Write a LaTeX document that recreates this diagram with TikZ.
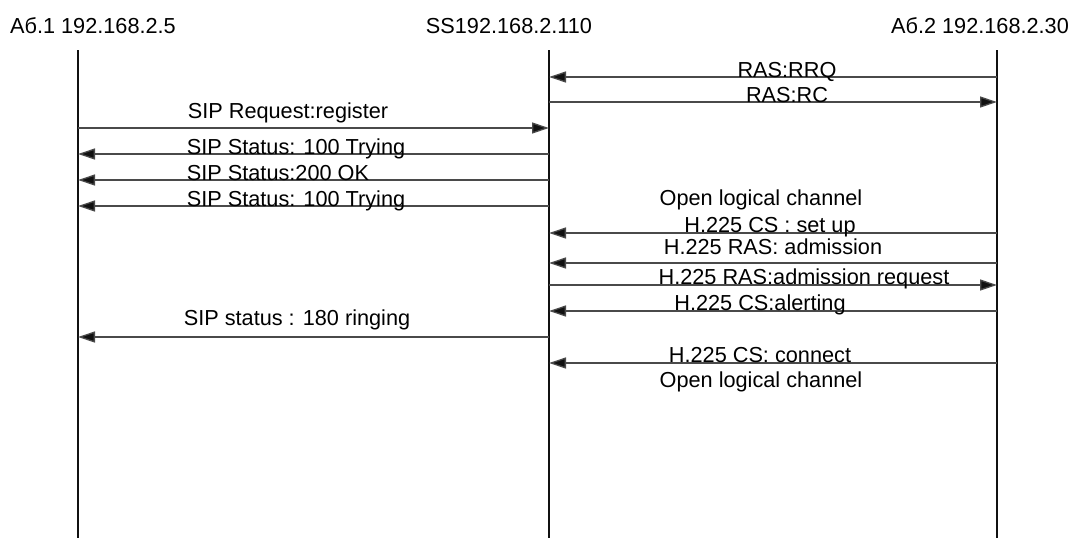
\documentclass[tikz,border=0pt]{standalone}
\usepackage{fontspec}
\setmainfont{Liberation Sans}
\usetikzlibrary{arrows.meta}
\definecolor{seqline}{HTML}{111111}
\definecolor{msgline}{HTML}{4A4A4A}
\tikzset{
    lifeline/.style={line width=1.2pt, draw=seqline},
    msg/.style={line width=1.3pt, draw=msgline,
        -{Triangle[length=17pt,width=11pt,fill=seqline]}},
    header/.style={font=\fontsize{21.7}{26}\selectfont,
        anchor=base, inner sep=0pt},
    msglabel/.style={font=\fontsize{21.7}{26}\selectfont,
        anchor=base, inner sep=0pt},
}

\begin{document}
\begin{tikzpicture}[x=1pt, y=-1pt]

    \useasboundingbox (0,0) rectangle (1074,538);

    % Headers
    \node[header] (ab1) at (93,33)  {Аб.1 192.168.2.5};
    \node[header] (ss)  at (509,33) {SS192.168.2.110};
    \node[header] (ab2) at (980,33) {Аб.2 192.168.2.30};

    % Lifelines
    \coordinate (ab1top) at (78,50);   \coordinate (ab1bot) at (78,538);
    \coordinate (sstop)  at (549,50);  \coordinate (ssbot)  at (549,538);
    \coordinate (ab2top) at (997,50);  \coordinate (ab2bot) at (997,538);
    \draw[lifeline] (ab1top) -- (ab1bot);
    \draw[lifeline] (sstop)  -- (ssbot);
    \draw[lifeline] (ab2top) -- (ab2bot);

    % Message rows
    \coordinate (rrq)      at (0,77);
    \coordinate (rc)       at (0,102);
    \coordinate (register) at (0,128);
    \coordinate (trying)   at (0,154);
    \coordinate (ok)       at (0,180);
    \coordinate (tryingb)  at (0,206);
    \coordinate (setup)    at (0,233);
    \coordinate (adm)      at (0,263);
    \coordinate (admreq)   at (0,285);
    \coordinate (alert)    at (0,311);
    \coordinate (ringing)  at (0,337);
    \coordinate (connect)  at (0,363);

    % Arrows
    \draw[msg] (ab2top |- rrq)      -- (sstop |- rrq);
    \draw[msg] (sstop |- rc)        -- (ab2top |- rc);
    \draw[msg] (ab1top |- register) -- (sstop |- register);
    \draw[msg] (sstop |- trying)    -- (ab1top |- trying);
    \draw[msg] (sstop |- ok)        -- (ab1top |- ok);
    \draw[msg] (sstop |- tryingb)   -- (ab1top |- tryingb);
    \draw[msg] (ab2top |- setup)    -- (sstop |- setup);
    \draw[msg] (ab2top |- adm)      -- (sstop |- adm);
    \draw[msg] (sstop |- admreq)    -- (ab2top |- admreq);
    \draw[msg] (ab2top |- alert)    -- (sstop |- alert);
    \draw[msg] (sstop |- ringing)   -- (ab1top |- ringing);
    \draw[msg] (ab2top |- connect)  -- (sstop |- connect);

    % Labels
    \node[msglabel] (rrqlbl)      at (787,77)  {RAS:RRQ};
    \node[msglabel] (rclbl)       at (787,102) {RAS:RC};
    \node[msglabel] (registerlbl) at (288,118) {SIP Request:register};
    \node[msglabel] (tryinglbl)   at (296,154) {SIP Status: 100 Trying};
    \node[msglabel] (oklbl)       at (278,180) {SIP Status:200 OK};
    \node[msglabel] (tryingblbl)  at (296,206) {SIP Status: 100 Trying};
    \node[msglabel] (olca)        at (761,205) {Open logical channel};
    \node[msglabel] (setuplbl)    at (770,232) {H.225 CS : set up};
    \node[msglabel] (admlbl)      at (773,254) {H.225 RAS: admission};
    \node[msglabel] (admreqlbl)   at (804,284) {H.225 RAS:admission request};
    \node[msglabel] (alertlbl)    at (760,310) {H.225 CS:alerting};
    \node[msglabel] (ringinglbl)  at (297,325) {SIP status : 180 ringing};
    \node[msglabel] (connectlbl)  at (760,362) {H.225 CS: connect};
    \node[msglabel] (olcb)        at (761,387) {Open logical channel};

\end{tikzpicture}
\end{document}
